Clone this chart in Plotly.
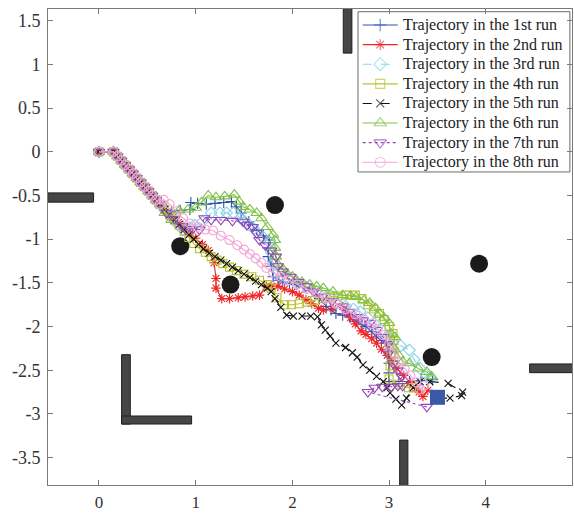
import plotly.graph_objects as go

# ---- shared start of every run (robot leaves the origin heading down-right) ----
start_x = [0.0, 0.15, 0.19, 0.23, 0.27, 0.31, 0.35, 0.39, 0.43, 0.47, 0.51, 0.55, 0.59, 0.63]
start_y = [0.0, 0.0, -0.05, -0.10, -0.15, -0.20, -0.25, -0.30, -0.35, -0.40, -0.45, -0.50, -0.55, -0.60]

# ---- run trajectories (continuation after the shared start) ----
run1_x = [0.70, 0.75, 0.84, 0.94, 0.95, 1.02, 1.11, 1.20, 1.29, 1.37, 1.42, 1.47, 1.55, 1.63, 1.70, 1.76,
          1.75, 1.75, 1.78, 1.80, 1.86, 1.90, 1.97, 2.04, 2.12, 2.21, 2.28, 2.35, 2.40, 2.45, 2.52, 2.59,
          2.66, 2.72, 2.76, 2.82, 2.87, 2.92, 2.97, 3.00, 3.00, 3.00, 3.00, 3.10, 3.21, 3.33, 3.45]
run1_y = [-0.66, -0.68, -0.67, -0.66, -0.58, -0.59, -0.60, -0.59, -0.58, -0.57, -0.63, -0.70, -0.80, -0.89, -0.96, -1.01,
          -1.10, -1.20, -1.31, -1.43, -1.47, -1.49, -1.51, -1.52, -1.55, -1.58, -1.68, -1.77, -1.81, -1.85, -1.87, -1.89,
          -1.94, -1.98, -2.00, -2.06, -2.12, -2.16, -2.19, -2.30, -2.42, -2.53, -2.63, -2.63, -2.63, -2.62, -2.61]

run2_x = [0.70, 0.76, 0.82, 0.88, 0.94, 1.00, 1.07, 1.13, 1.19, 1.21, 1.21, 1.27, 1.35, 1.44, 1.51, 1.59, 1.66,
          1.73, 1.78, 1.85, 1.92, 2.00, 2.07, 2.14, 2.20, 2.27, 2.32, 2.42, 2.52, 2.56, 2.60, 2.65, 2.71, 2.76,
          2.82, 2.87, 2.92, 2.98, 3.03, 3.08, 3.15, 3.22, 3.28, 3.31, 3.35, 3.40]
run2_y = [-0.69, -0.75, -0.81, -0.87, -0.93, -0.99, -1.06, -1.13, -1.27, -1.45, -1.56, -1.68, -1.68, -1.67, -1.66, -1.65, -1.64,
          -1.54, -1.54, -1.54, -1.57, -1.60, -1.64, -1.69, -1.74, -1.79, -1.81, -1.79, -1.77, -1.84, -1.90, -1.97, -2.05, -2.09,
          -2.14, -2.19, -2.26, -2.33, -2.40, -2.48, -2.56, -2.64, -2.71, -2.75, -2.80, -2.73]

run3_x = [0.68, 0.75, 0.82, 0.87, 0.95, 0.99, 1.07, 1.16, 1.25, 1.32, 1.39, 1.46, 1.51, 1.56, 1.60, 1.64, 1.70,
          1.76, 1.78, 1.80, 1.86, 1.95, 2.05, 2.15, 2.25, 2.35, 2.45, 2.55, 2.63, 2.70, 2.78, 2.85, 2.92, 2.98,
          3.03, 3.12, 3.21, 3.26, 3.32, 3.38, 3.42]
run3_y = [-0.67, -0.76, -0.84, -0.89, -0.87, -0.84, -0.80, -0.70, -0.70, -0.70, -0.70, -0.76, -0.80, -0.84, -0.88, -0.93, -0.98,
          -1.03, -1.15, -1.28, -1.37, -1.44, -1.50, -1.55, -1.60, -1.66, -1.72, -1.77, -1.80, -1.83, -1.90, -1.97, -2.04, -2.12,
          -2.18, -2.22, -2.27, -2.38, -2.48, -2.55, -2.59]

run4_x = [0.68, 0.73, 0.78, 0.83, 0.88, 0.93, 0.98, 1.04, 1.10, 1.16, 1.22, 1.28, 1.35, 1.42, 1.50, 1.58, 1.66,
          1.74, 1.78, 1.84, 1.92, 1.99, 2.07, 2.15, 2.23, 2.31, 2.39, 2.47, 2.56, 2.65, 2.72, 2.78, 2.84, 2.90,
          2.95, 3.00, 3.04, 3.05, 3.03, 3.02, 3.01, 3.00, 3.10, 3.20, 3.25]
run4_y = [-0.66, -0.72, -0.78, -0.84, -0.91, -0.98, -1.05, -1.11, -1.15, -1.20, -1.24, -1.28, -1.32, -1.36, -1.40, -1.43, -1.47,
          -1.52, -1.56, -1.67, -1.75, -1.75, -1.74, -1.72, -1.70, -1.68, -1.66, -1.65, -1.64, -1.64, -1.68, -1.75, -1.80, -1.85,
          -1.92, -2.00, -2.08, -2.16, -2.25, -2.33, -2.45, -2.60, -2.66, -2.70, -2.70]

run5_x = [0.68, 0.73, 0.78, 0.83, 0.88, 0.93, 0.98, 1.03, 1.08, 1.14, 1.20, 1.26, 1.32, 1.38, 1.44, 1.50, 1.56,
          1.62, 1.68, 1.74, 1.78, 1.82, 1.88, 1.94, 2.01, 2.10, 2.19, 2.26, 2.30, 2.34, 2.39, 2.45, 2.55, 2.62,
          2.67, 2.73, 2.80, 2.87, 2.94, 2.98, 3.01, 3.07, 3.13, 3.18, 3.25, 3.32, 3.42, 3.61, 3.76, 3.75, 3.63, 3.50]
run5_y = [-0.66, -0.72, -0.78, -0.83, -0.89, -0.95, -1.00, -1.06, -1.11, -1.16, -1.20, -1.24, -1.28, -1.32, -1.36, -1.40, -1.44,
          -1.48, -1.52, -1.56, -1.60, -1.68, -1.78, -1.87, -1.88, -1.88, -1.88, -1.89, -1.98, -2.04, -2.11, -2.19, -2.24, -2.30,
          -2.35, -2.44, -2.50, -2.57, -2.63, -2.70, -2.76, -2.83, -2.90, -2.82, -2.70, -2.63, -2.63, -2.65, -2.75, -2.79, -2.82, -2.82]

run6_x = [0.68, 0.75, 0.83, 0.92, 1.00, 1.06, 1.13, 1.21, 1.30, 1.40, 1.45, 1.49, 1.56, 1.63, 1.68, 1.74, 1.80,
          1.82, 1.82, 1.83, 1.85, 1.90, 1.94, 2.00, 2.04, 2.10, 2.18, 2.25, 2.32, 2.42, 2.52, 2.60, 2.66, 2.74,
          2.80, 2.86, 2.90, 2.95, 3.00, 3.02, 3.06, 3.04, 3.10, 3.14, 3.21, 3.30, 3.39, 3.44]
run6_y = [-0.70, -0.78, -0.67, -0.66, -0.64, -0.58, -0.50, -0.52, -0.51, -0.49, -0.57, -0.63, -0.66, -0.70, -0.76, -0.86, -0.95,
          -1.01, -1.10, -1.20, -1.29, -1.34, -1.39, -1.43, -1.47, -1.49, -1.52, -1.54, -1.56, -1.60, -1.64, -1.65, -1.66, -1.70,
          -1.73, -1.79, -1.85, -1.90, -1.96, -2.08, -2.12, -2.23, -2.33, -2.40, -2.42, -2.48, -2.52, -2.57]

run7_x = [0.70, 0.78, 0.86, 0.90, 0.97, 1.04, 1.09, 1.16, 1.26, 1.38, 1.49, 1.53, 1.59, 1.63, 1.66, 1.72, 1.78,
          1.83, 1.85, 1.90, 1.98, 2.06, 2.14, 2.22, 2.31, 2.41, 2.52, 2.59, 2.66, 2.73, 2.80, 2.87, 2.94, 2.99,
          2.99, 3.04, 3.09, 3.13, 3.14, 3.09, 3.02, 2.93, 2.85, 2.78, 3.39]
run7_y = [-0.70, -0.77, -0.85, -0.89, -0.88, -0.89, -0.76, -0.78, -0.78, -0.79, -0.80, -0.84, -0.86, -0.93, -1.01, -1.07, -1.13,
          -1.20, -1.31, -1.37, -1.43, -1.49, -1.54, -1.60, -1.66, -1.71, -1.77, -1.83, -1.89, -1.93, -1.96, -2.04, -2.12, -2.20,
          -2.31, -2.42, -2.50, -2.57, -2.68, -2.68, -2.69, -2.69, -2.70, -2.75, -2.92]

run8_x = [0.67, 0.73, 0.80, 0.87, 0.94, 1.02, 1.10, 1.18, 1.26, 1.35, 1.43, 1.50, 1.56, 1.62, 1.68, 1.73, 1.80,
          1.88, 1.96, 2.05, 2.15, 2.25, 2.35, 2.45, 2.55, 2.65, 2.74, 2.82, 2.88, 2.94, 3.00, 3.05, 3.10, 3.16,
          3.22, 3.28, 3.32, 3.36]
run8_y = [-0.55, -0.60, -0.68, -0.76, -0.82, -0.86, -0.89, -0.90, -0.96, -1.01, -1.07, -1.12, -1.17, -1.22, -1.27, -1.33, -1.38,
          -1.43, -1.47, -1.52, -1.57, -1.62, -1.68, -1.74, -1.80, -1.86, -1.92, -1.97, -2.03, -2.10, -2.20, -2.30, -2.40, -2.48,
          -2.56, -2.64, -2.72, -2.68]

run_names = ["Trajectory in the 1st run", "Trajectory in the 2nd run", "Trajectory in the 3rd run",
             "Trajectory in the 4th run", "Trajectory in the 5th run", "Trajectory in the 6th run",
             "Trajectory in the 7th run", "Trajectory in the 8th run"]

# ---- circular obstacles and goal ----
circle_x = [1.82, 0.84, 1.36, 3.93, 3.44]
circle_y = [-0.61, -1.08, -1.52, -1.28, -2.35]
goal_x = [3.50]
goal_y = [-2.81]

# ---- wall segments: (x0, x1, y0, y1) ----
walls = [
    (2.526, 2.615, 1.13, 1.64),
    (-0.53, -0.056, -0.47, -0.576),
    (0.234, 0.324, -2.322, -3.116),
    (0.234, 0.958, -3.024, -3.116),
    (3.109, 3.194, -3.30, -3.82),
    (4.453, 4.95, -2.428, -2.528),
]

x_ticks = [0, 1, 2, 3, 4]
y_ticks = [1.5, 1, 0.5, 0, -0.5, -1, -1.5, -2, -2.5, -3, -3.5]
y_tick_text = ["1.5", "1", "0.5", "0", "-0.5", "-1", "-1.5", "-2", "-2.5", "-3", "-3.5"]

SERIF = "Liberation Serif, Times New Roman, Times, serif"

styles = [
    dict(color="#3152b3", dash="solid", symbol="cross-thin-open", size=8),
    dict(color="#ee2626", dash="solid", symbol="asterisk-open", size=8),
    dict(color="#86d3ea", dash="dash", symbol="diamond-open", size=9),
    dict(color="#b9c030", dash="solid", symbol="square-open", size=8),
    dict(color="#111111", dash="dash", symbol="x-thin-open", size=7),
    dict(color="#7fc247", dash="solid", symbol="triangle-up-open", size=10),
    dict(color="#9646b4", dash="dot", symbol="triangle-down-open", size=10),
    dict(color="#f2a6d6", dash="solid", symbol="circle-open", size=9),
]

runs = [(run1_x, run1_y), (run2_x, run2_y), (run3_x, run3_y), (run4_x, run4_y),
        (run5_x, run5_y), (run6_x, run6_y), (run7_x, run7_y), (run8_x, run8_y)]

fig = go.Figure()

fig.add_trace(go.Scatter(x=circle_x, y=circle_y, mode="markers", showlegend=False, hoverinfo="skip",
                         marker=dict(size=18, color="#1b1b1b", line=dict(width=0))))

for name, (rx, ry), st in zip(run_names, runs, styles):
    fig.add_trace(go.Scatter(
        x=start_x + rx, y=start_y + ry, mode="lines+markers", name=name, showlegend=False,
        line=dict(color=st["color"], width=1.1, dash=st["dash"]),
        marker=dict(symbol=st["symbol"], size=st["size"], color=st["color"],
                    line=dict(width=1.1, color=st["color"])),
    ))

fig.add_trace(go.Scatter(x=goal_x, y=goal_y, mode="markers", showlegend=False, hoverinfo="skip",
                         marker=dict(symbol="square", size=15, color="#3a5aa9", line=dict(width=0))))

for x0, x1, y0, y1 in walls:
    fig.add_shape(type="rect", x0=x0, x1=x1, y0=y0, y1=y1, xref="x", yref="y",
                  fillcolor="#464646", line=dict(color="#1e1e1e", width=1), layer="above")

# ---- legend box, drawn in the plot-area fraction frame ----
leg_left, leg_right, leg_top, leg_bottom = 0.5916, 0.996, 0.9943, 0.6576
leg_row0, leg_step = 0.9664, 0.0412
sample_x0, sample_x1, text_x = 0.6006, 0.6674, 0.6731

fig.add_shape(type="rect", xref="x domain", yref="y domain",
              x0=leg_left, x1=leg_right, y0=leg_bottom, y1=leg_top,
              fillcolor="white", line=dict(color="#6a6a6a", width=1), layer="below")

for i, (name, st) in enumerate(zip(run_names, styles)):
    yy = leg_row0 - i * leg_step
    fig.add_trace(go.Scatter(
        x=[sample_x0, (sample_x0 + sample_x1) / 2, sample_x1], y=[yy, yy, yy],
        xaxis="x2", yaxis="y2", mode="lines+markers", showlegend=False, hoverinfo="skip",
        line=dict(color=st["color"], width=1.1, dash=st["dash"]),
        marker=dict(symbol=st["symbol"], size=[0, st["size"] + 1, 0], color=st["color"],
                    line=dict(width=1.1, color=st["color"])),
    ))
    fig.add_annotation(xref="x domain", yref="y domain", x=text_x, y=yy, text=name,
                       showarrow=False, xanchor="left", yanchor="middle",
                       font=dict(family=SERIF, size=16, color="#222222"))

axis_common = dict(showgrid=False, zeroline=False, showline=True, linecolor="#7a7a7a", linewidth=1,
                   mirror="ticks", ticks="inside", ticklen=5, tickcolor="#7a7a7a", automargin=False)

fig.update_layout(
    width=574, height=513,
    margin=dict(l=48, r=2, t=9, b=28),
    paper_bgcolor="white", plot_bgcolor="white",
    font=dict(family=SERIF),
    showlegend=False,
    xaxis=dict(range=[-0.527, 4.891], tickvals=x_ticks, ticklabelstandoff=2,
               tickfont=dict(family=SERIF, size=17, color="#333333"), **axis_common),
    yaxis=dict(range=[-3.814, 1.635], tickvals=y_ticks, ticktext=y_tick_text, ticklabelstandoff=3,
               tickfont=dict(family=SERIF, size=18, color="#333333"), **axis_common),
    xaxis2=dict(overlaying="x", range=[0, 1], visible=False, fixedrange=True),
    yaxis2=dict(overlaying="y", range=[0, 1], visible=False, fixedrange=True),
)

fig.write_html("out.html")
